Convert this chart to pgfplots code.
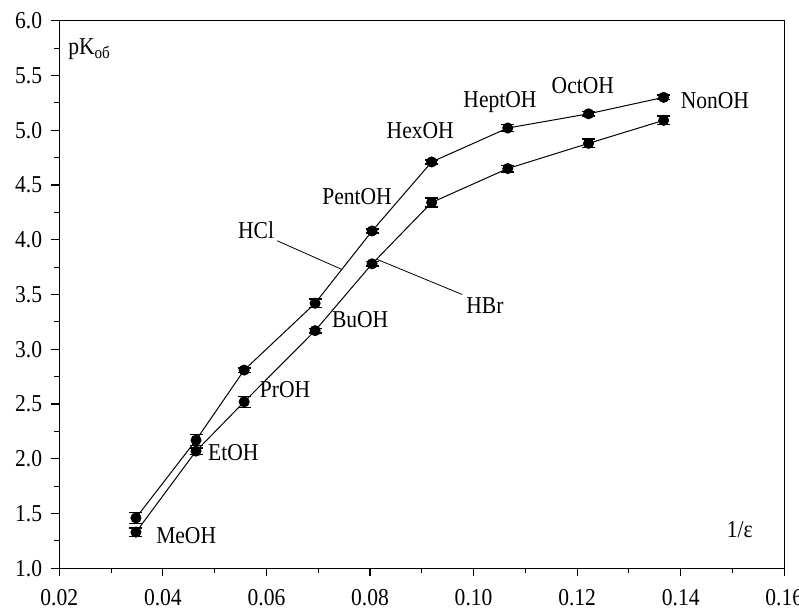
\documentclass[border=0pt]{standalone}
\usepackage{pgfplots}
\pgfplotsset{compat=1.18}
\usepackage{fontspec}
\setmainfont{Liberation Serif}[FakeStretch=0.89]
\begin{document}
\fontsize{24.3}{29}\selectfont
\begin{tikzpicture}
\begin{axis}[
  scale only axis,
  width=725bp, height=547.6bp,
  xmin=0.02, xmax=0.16, ymin=1.0, ymax=6.0,
  xtick={0.02,0.04,0.06,0.08,0.10,0.12,0.14,0.16},
  xticklabels={0.02,0.04,0.06,0.08,0.10,0.12,0.14,0.16},
  ytick={1.0,1.5,2.0,2.5,3.0,3.5,4.0,4.5,5.0,5.5,6.0},
  yticklabels={1.0,1.5,2.0,2.5,3.0,3.5,4.0,4.5,5.0,5.5,6.0},
  minor xtick={0.03,0.05,0.07,0.09,0.11,0.13,0.15},
  minor ytick={1.25,1.75,2.25,2.75,3.25,3.75,4.25,4.75,5.25,5.75},
  tick align=outside,
  xtick pos=bottom, ytick pos=left,
  major tick length=8bp, minor tick length=5bp,
  axis line style={line width=1.2bp},
  tick style={line width=1.1bp, black},
  tick label style={font=\fontsize{24.3}{29}\selectfont, inner sep=0pt},
  xticklabel style={anchor=north},
  yticklabel style={anchor=east},
  xticklabel shift=12.5bp,
  yticklabel shift=9bp,
  clip=false,
]
% HCl
\addplot[black, line width=1bp, mark=*, mark size=5bp,
  error bars/.cd, y dir=both, y explicit, error bar style={line width=1.5bp},
  error mark options={rotate=90, mark size=6.5bp, line width=1.5bp}]
  table[x=x, y=y, y error=e] {
x y e
0.0348 1.46 0.05
0.0464 2.17 0.05
0.0557 2.81 0.02
0.0694 3.42 0.04
0.0804 4.08 0.02
0.0919 4.71 0.02
0.1066 5.02 0.03
0.1222 5.15 0.02
0.1367 5.30 0.02
};
% HBr
\addplot[black, line width=1bp, mark=*, mark size=5bp,
  error bars/.cd, y dir=both, y explicit, error bar style={line width=1.5bp},
  error mark options={rotate=90, mark size=6.5bp, line width=1.5bp}]
  table[x=x, y=y, y error=e] {
x y e
0.0348 1.33 0.04
0.0464 2.07 0.03
0.0557 2.52 0.05
0.0694 3.17 0.02
0.0804 3.78 0.02
0.0919 4.34 0.04
0.1066 4.65 0.03
0.1222 4.88 0.04
0.1367 5.09 0.04
};
\draw[line width=0.8bp] (axis cs:0.0621,3.99) -- (axis cs:0.0745,3.73);
\draw[line width=0.8bp] (axis cs:0.0814,3.82) -- (axis cs:0.0978,3.50);
\node at (axis cs:0.0580,4.09) {HCl};
\node at (axis cs:0.1022,3.40) {HBr};
\node at (axis cs:0.0445,1.295) {MeOH};
\node at (axis cs:0.0536,2.055) {EtOH};
\node at (axis cs:0.0636,2.63) {PrOH};
\node at (axis cs:0.0781,3.27) {BuOH};
\node at (axis cs:0.0775,4.39) {PentOH};
\node at (axis cs:0.0897,5.00) {HexOH};
\node at (axis cs:0.1051,5.26) {HeptOH};
\node at (axis cs:0.1211,5.41) {OctOH};
\node at (axis cs:0.1466,5.27) {NonOH};
\node at (axis cs:0.0258,5.74) {pK\textsubscript{об}};
\node at (axis cs:0.1514,1.35) {1/ε};
\end{axis}
\pgfresetboundingbox
\path ([shift={(-59.3bp,-39.7bp)}]current axis.south west) rectangle ([shift={(14.7bp,20.7bp)}]current axis.north east);
\end{tikzpicture}
\end{document}
